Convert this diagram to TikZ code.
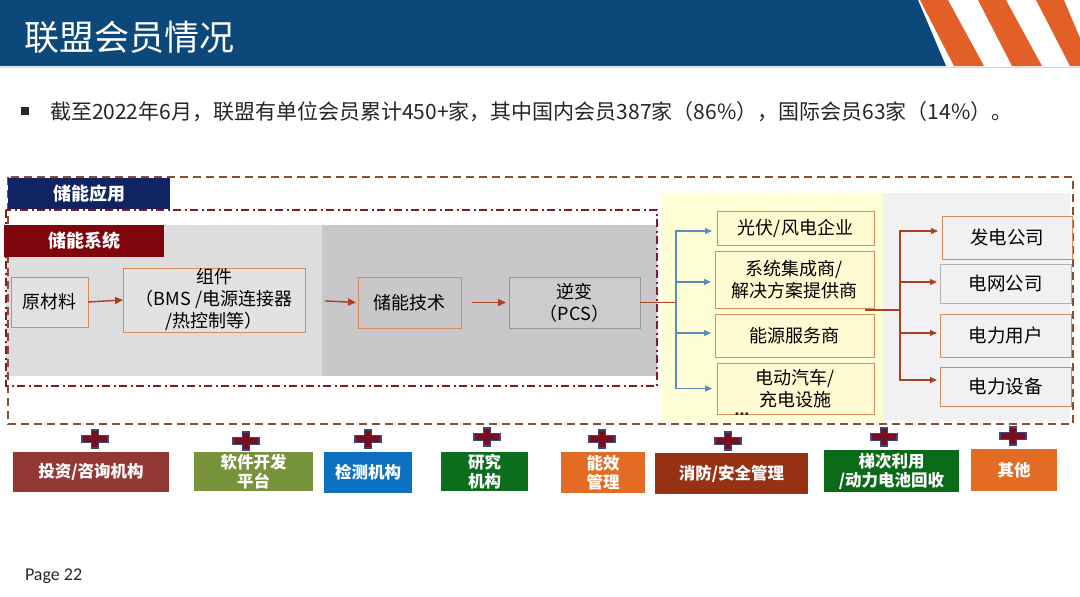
\documentclass[tikz,border=0pt]{standalone}
\usepackage{fontspec}
\setmainfont{Noto Sans CJK SC}
\newfontfamily\latinfont{Carlito}
\usetikzlibrary{arrows.meta,calc}
\definecolor{titleblue}{RGB}{12,72,122}
\definecolor{stripe}{RGB}{226,96,40}
\definecolor{outerdash}{RGB}{140,78,46}
\definecolor{innerdash}{RGB}{135,28,28}
\definecolor{navylab}{RGB}{16,36,100}
\definecolor{redlab}{RGB}{128,4,12}
\definecolor{lgray}{RGB}{221,221,221}
\definecolor{dgray}{RGB}{201,199,201}
\definecolor{lyellow}{RGB}{255,255,214}
\definecolor{boxyellow}{RGB}{255,250,210}
\definecolor{rgray}{RGB}{241,241,243}
\definecolor{boxorange}{RGB}{214,140,90}
\definecolor{arrowred}{RGB}{170,64,30}
\definecolor{arrowblue}{RGB}{90,140,190}
\definecolor{plusfill}{RGB}{120,14,30}
\definecolor{plusedge}{RGB}{60,72,120}
\definecolor{cA}{RGB}{149,55,53}
\definecolor{cB}{RGB}{119,147,60}
\definecolor{cC}{RGB}{14,112,192}
\definecolor{cD}{RGB}{11,110,31}
\definecolor{cE}{RGB}{227,108,37}
\definecolor{cF}{RGB}{151,49,19}
\definecolor{cG}{RGB}{11,106,24}
\tikzset{
  txt/.style={inner sep=0pt, outer sep=0pt, text=black!85},
  graybox/.style={draw=boxorange, line width=0.8pt, fill=lgray!85!white, inner sep=0pt, outer sep=0pt, align=center, font=\fontsize{18}{22}\selectfont},
  ybox/.style={draw=boxorange, line width=0.8pt, fill=boxyellow, inner sep=0pt, outer sep=0pt, align=center, font=\fontsize{18}{22}\selectfont},
  rbox/.style={draw=boxorange, line width=0.8pt, fill=rgray, inner sep=0pt, outer sep=0pt, align=center, font=\fontsize{18.5}{22}\selectfont},
  labbox/.style={inner sep=0pt, outer sep=0pt, text=white, font=\fontsize{18}{20}\selectfont\bfseries},
  botbox/.style={inner sep=0pt, outer sep=0pt, text=white, align=center, font=\fontsize{16.5}{19}\selectfont\bfseries},
  flowarrow/.style={draw=arrowred, line width=1.4pt, -{Triangle[length=8pt,width=7pt]}},
  bluearrow/.style={draw=arrowblue, line width=1.2pt, -{Triangle[length=7pt,width=6pt]}},
  redarrow/.style={draw=arrowred, line width=1.2pt, -{Triangle[length=7pt,width=6pt]}},
  plussign/.pic={
    \filldraw[fill=plusfill, draw=plusedge, line width=1.6pt]
      (-13,-3.5) -- (-3.5,-3.5) -- (-3.5,-9) -- (3.5,-9) -- (3.5,-3.5) -- (13,-3.5)
      -- (13,3.5) -- (3.5,3.5) -- (3.5,9) -- (-3.5,9) -- (-3.5,3.5) -- (-13,3.5) -- cycle;
  }
}
\begin{document}
\begin{tikzpicture}[x=1pt,y=-1pt]
\useasboundingbox (0,0) rectangle (1080,597);
\fill[white] (0,0) rectangle (1080,597);
% title bar
\fill[titleblue] (0,0) -- (918,0) -- (946,66) -- (0,66) -- cycle;
\fill[stripe] (920,0) -- (948,0) -- (984,66) -- (954,66) -- cycle;
\fill[stripe] (978,0) -- (1006,0) -- (1042,66) -- (1012,66) -- cycle;
\fill[stripe] (1036,0) -- (1064,0) -- (1080,38) -- (1080,66) -- (1070,66) -- cycle;
\draw[black!15, line width=0.8pt] (0,67) -- (1080,67);
\node[anchor=west, text=white, inner sep=0pt, font=\fontsize{35}{38}\selectfont] (title) at (24,37) {联盟会员情况};
% bullet
\fill[black!85] (21,107) rectangle (29,115);
\node[anchor=west, txt, font=\fontsize{21}{24}\selectfont] (bullet) at (50,112) {截至2022年6月，联盟有单位会员累计450+家，其中国内会员387家（86\%），国际会员63家（14\%）。};
% regions
\fill[lyellow] (662,193) rectangle (883,421);
\fill[rgray] (883,193) rectangle (1070,421);
\fill[lgray] (6,225) rectangle (322,376);
\fill[dgray] (322,225) rectangle (657,376);
% outer dashed box
\draw[outerdash, line width=2pt, dash pattern=on 8pt off 5pt] (8,177) rectangle (1073,424);
% inner dash-dot box
\draw[innerdash, line width=2pt, dash pattern=on 8pt off 3.5pt on 2pt off 3.5pt] (6,210) rectangle (657,386);
% labels
\node[labbox, fill=navylab, minimum width=162pt, minimum height=31pt] (lab1) at (89,193.5) {储能应用};
\node[labbox, fill=redlab, minimum width=160pt, minimum height=32pt] (lab2) at (84,241) {储能系统};
% chain
\node[graybox, minimum width=77pt, minimum height=50pt] (raw) at (49.5,302) {原材料};
\node[graybox, minimum width=182pt, minimum height=64pt] (zujian) at (214,300) {组件\\（BMS /电源连接器\\/热控制等）};
\node[graybox, fill=dgray, minimum width=103pt, minimum height=51pt] (tech) at (409.5,302.5) {储能技术};
\node[graybox, fill=dgray!80!lgray, draw=black!40, minimum width=131pt, minimum height=51pt] (pcs) at (574.5,302.5) {逆变\\（PCS）};
\draw[flowarrow] (raw.east) -- (zujian.west);
\draw[flowarrow, shorten <=20pt, shorten >=2pt] (zujian.east) -- (tech.west);
\draw[flowarrow, shorten <=11pt, shorten >=3pt] (tech.east) -- (pcs.west);
% yellow column
\node[ybox, minimum width=157pt, minimum height=34pt] (y1) at (795.5,228) {光伏/风电企业};
\node[ybox, minimum width=159pt, minimum height=57pt] (y2) at (794.5,279.5) {系统集成商/\\解决方案提供商};
\node[ybox, minimum width=159pt, minimum height=43pt] (y3) at (794.5,335.5) {能源服务商};
\node[ybox, minimum width=157pt, minimum height=51pt] (y4) at (795.5,388.5) {电动汽车/\\充电设施};
\node[txt, font=\fontsize{14}{14}\selectfont\bfseries] (dots) at (742,414) {...};
\coordinate (bl) at (676,302.5);
\draw[arrowred, line width=1.4pt] (pcs.east) -- (bl);
\draw[arrowblue, line width=1.2pt] ($(bl)+(0,-71.5)$) -- ($(bl)+(0,86.5)$);
\draw[bluearrow, shorten >=5pt] (bl) |- ([yshift=-3pt]y1.west);
\draw[bluearrow, shorten >=4pt] (bl) |- ([yshift=-2.5pt]y2.west);
\draw[bluearrow, shorten >=4pt] (bl) |- ([yshift=2.5pt]y3.west);
\draw[bluearrow, shorten >=5pt] (bl) |- (y4.west);
% right column
\node[rbox, minimum width=130pt, minimum height=43pt] (r1) at (1007,237.5) {发电公司};
\node[rbox, draw=black!30, minimum width=131pt, minimum height=39pt] (r2) at (1005.5,283.5) {电网公司};
\node[rbox, minimum width=131pt, minimum height=43pt] (r3) at (1005.5,335.5) {电力用户};
\node[rbox, minimum width=131pt, minimum height=39pt] (r4) at (1005.5,386.5) {电力设备};
\coordinate (rs) at (865,310);
\coordinate (rb) at (900,310);
\draw[arrowred, line width=1.2pt] (rs) -- (rb);
\draw[arrowred, line width=1.2pt] (900,231) -- (900,380);
\draw[redarrow, shorten >=4pt] (rb) |- ([yshift=6.5pt]r1.west);
\draw[redarrow, shorten >=3pt] (rb) |- ([yshift=1.5pt]r2.west);
\draw[redarrow, shorten >=3pt] (rb) |- ([yshift=2.5pt]r3.west);
\draw[redarrow, shorten >=3pt] (rb) |- ([yshift=6.5pt]r4.west);
% plus signs
\foreach \px/\py in {95/439, 246/441, 368/439, 487/437, 602/439, 728/441, 884/437, 1013/436}
  \pic at (\px,\py) {plussign};
% bottom boxes
\node[botbox, fill=cA, minimum width=156pt, minimum height=40pt] (k1) at (91,472) {投资/咨询机构};
\node[botbox, fill=cB, minimum width=119pt, minimum height=39pt] (k2) at (253.5,471.5) {软件开发\\平台};
\node[botbox, fill=cC, minimum width=88pt, minimum height=41pt] (k3) at (368,472.5) {检测机构};
\node[botbox, fill=cD, minimum width=87pt, minimum height=39pt] (k4) at (484.5,471.5) {研究\\机构};
\node[botbox, fill=cE, minimum width=84pt, minimum height=41pt] (k5) at (603,472.5) {能效\\管理};
\node[botbox, fill=cF, minimum width=153pt, minimum height=41pt] (k6) at (731.5,473.5) {消防/安全管理};
\node[botbox, fill=cG, minimum width=135pt, minimum height=42pt] (k7) at (891.5,471) {梯次利用\\/动力电池回收};
\node[botbox, fill=cE, minimum width=86pt, minimum height=42pt] (k8) at (1014,470) {其他};
% page number
\node[anchor=west, txt, font=\latinfont\fontsize{18}{20}\selectfont] (page) at (25,576) {Page 22};
\end{tikzpicture}
\end{document}
